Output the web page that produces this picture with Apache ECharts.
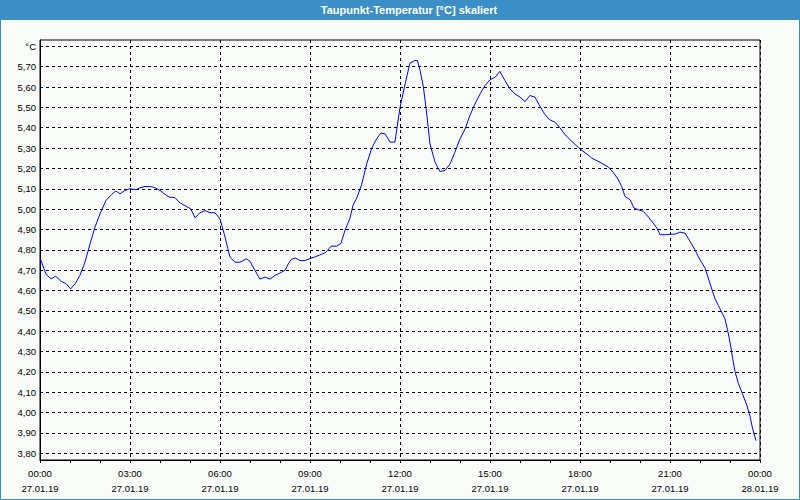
<!DOCTYPE html>
<html>
<head>
<meta charset="utf-8">
<script src="https://cdn.jsdelivr.net/npm/echarts@6/dist/echarts.min.js"></script>
<style>
html,body{margin:0;padding:0;background:#fafcfa;}
#chart{width:800px;height:500px;}
</style>
</head>
<body>
<div id="chart"></div>
<script>
// Time of day in hours (27.01.19 00:00 = 0)
var hours = [
  0.0, 0.2, 0.37, 0.52, 0.72, 0.87, 1.02, 1.17, 1.33, 1.5, 1.67, 1.83, 2.0, 2.2, 2.39, 2.53, 2.67, 2.83,
  3.0, 3.2, 3.33, 3.5, 3.69, 3.83, 4.0, 4.17, 4.31, 4.5, 4.67, 4.89, 5.03, 5.17, 5.33, 5.5, 5.67, 5.83,
  6.0, 6.17, 6.33, 6.5, 6.67, 6.87, 7.0, 7.17, 7.33, 7.5, 7.67, 7.83, 8.0, 8.17, 8.28, 8.37, 8.5, 8.67, 8.83,
  9.0, 9.17, 9.33, 9.5, 9.59, 9.7, 9.89, 10.03, 10.17, 10.33, 10.44, 10.56, 10.72, 10.89, 11.06, 11.22, 11.36, 11.5, 11.67, 11.83,
  12.0, 12.17, 12.33, 12.5, 12.58, 12.67, 12.78, 12.89, 13.0, 13.17, 13.33, 13.5, 13.67, 13.83, 14.0, 14.17, 14.33, 14.5, 14.67, 14.83,
  15.0, 15.17, 15.33, 15.5, 15.67, 15.83, 16.0, 16.17, 16.33, 16.5, 16.67, 16.83, 17.0, 17.17, 17.33, 17.5, 17.67,
  18.0, 18.22, 18.39, 18.67, 18.94, 19.11, 19.28, 19.39, 19.5, 19.67, 19.8, 19.94, 20.11, 20.28, 20.44, 20.56, 20.67, 20.83,
  21.0, 21.17, 21.33, 21.5, 21.67, 21.83, 22.0, 22.17, 22.33, 22.41, 22.5, 22.61, 22.72, 22.83, 22.91,
  23.0, 23.09, 23.17, 23.28, 23.41, 23.56, 23.67, 23.74, 23.8, 23.87
];
// Dew point temperature [°C]
var dewPoint = [
  4.76, 4.68, 4.657, 4.67, 4.644, 4.633, 4.608, 4.633, 4.674, 4.74, 4.83, 4.91, 4.977, 5.043, 5.072, 5.089, 5.075, 5.092,
  5.10, 5.095, 5.105, 5.111, 5.111, 5.105, 5.092, 5.072, 5.059, 5.056, 5.03, 5.013, 5.0, 4.957, 4.982, 4.993, 4.982, 4.982,
  4.952, 4.862, 4.764, 4.739, 4.739, 4.756, 4.743, 4.698, 4.656, 4.666, 4.656, 4.674, 4.686, 4.70, 4.732, 4.752, 4.76, 4.747, 4.747,
  4.757, 4.765, 4.775, 4.785, 4.798, 4.818, 4.818, 4.831, 4.897, 4.955, 5.021, 5.055, 5.12, 5.222, 5.30, 5.345, 5.374, 5.37, 5.329, 5.329,
  5.50, 5.615, 5.717, 5.73, 5.73, 5.68, 5.60, 5.468, 5.32, 5.23, 5.185, 5.19, 5.222, 5.28, 5.345, 5.394, 5.46, 5.517, 5.566, 5.607,
  5.635, 5.648, 5.677, 5.631, 5.59, 5.566, 5.55, 5.528, 5.558, 5.55, 5.504, 5.465, 5.438, 5.427, 5.40, 5.366, 5.341,
  5.295, 5.272, 5.251, 5.23, 5.207, 5.18, 5.144, 5.111, 5.062, 5.046, 5.005, 4.997, 4.989, 4.961, 4.931, 4.907, 4.874, 4.874,
  4.877, 4.877, 4.887, 4.882, 4.841, 4.80, 4.751, 4.71, 4.636, 4.60, 4.559, 4.527, 4.494, 4.461, 4.412,
  4.347, 4.265, 4.20, 4.143, 4.094, 4.036, 3.98, 3.931, 3.895, 3.862
];
var titleText = 'Taupunkt-Temperatur [°C] skaliert';
var unitLabel = '°C';
var dayLabels = ['27.01.19', '28.01.19'];

var lineData = hours.map(function (h, i) { return [h, dewPoint[i]]; });

var chart = echarts.init(document.getElementById('chart'), null, {renderer: 'svg'});
var labelFont = 'Liberation Sans, Arial, sans-serif';

chart.setOption({
  animation: false,
  backgroundColor: '#fafcfa',
  graphic: [
    {type: 'rect', shape: {x: 0, y: 0, width: 800, height: 20}, style: {fill: '#3c8fc6'}, silent: true, z: 0},
    {type: 'rect', shape: {x: 0.5, y: 0.5, width: 799, height: 499}, style: {fill: null, stroke: '#3c8fc6', lineWidth: 1}, silent: true, z: 0},
    {type: 'text', x: 409, y: 10, z: 10, style: {text: titleText, fill: '#ffffff', font: 'bold 11px Liberation Sans, Arial, sans-serif', textAlign: 'center', textVerticalAlign: 'middle'}}
  ],
  grid: [
    // plot frame with data
    {left: 40, right: 40, top: 40, bottom: 40, show: true, borderColor: '#000', borderWidth: 1, backgroundColor: 'transparent'},
    // grid for the labelled horizontal gridlines 3,80 .. 5,80
    {left: 40, right: 40, top: 46.3, bottom: 46.7, show: false}
  ],
  xAxis: [{
    gridIndex: 0, type: 'value', min: 0, max: 24, interval: 3,
    axisLine: {show: true, lineStyle: {color: '#000', width: 1}},
    axisTick: {show: true, length: 3, lineStyle: {color: '#000'}},
    minorTick: {show: true, splitNumber: 3, length: 3, lineStyle: {color: '#000'}},
    splitLine: {show: true, lineStyle: {color: '#000', type: [3, 3], width: 1}},
    axisLabel: {
      color: '#000', fontFamily: labelFont, fontSize: 9.5, lineHeight: 15, margin: 6,
      formatter: function (v) {
        var hh = Math.round(v) % 24;
        var s = (hh < 10 ? '0' : '') + hh + ':00';
        return s + '\n' + (v >= 24 ? dayLabels[1] : dayLabels[0]);
      }
    }
  }, {
    gridIndex: 1, type: 'value', min: 0, max: 24, show: false
  }],
  yAxis: [{
    gridIndex: 0, type: 'value', min: 3.7671, max: 5.831,
    axisLine: {show: true, lineStyle: {color: '#000', width: 1}},
    axisTick: {show: false}, axisLabel: {show: false}, splitLine: {show: false}
  }, {
    gridIndex: 1, type: 'value', min: 3.8, max: 5.8, interval: 0.1,
    axisLine: {show: false}, axisTick: {show: false},
    splitLine: {show: true, lineStyle: {color: '#000', type: [3, 3], width: 1}},
    axisLabel: {
      color: '#000', fontFamily: labelFont, fontSize: 9.5, margin: 4,
      formatter: function (v) {
        if (Math.abs(v - 5.8) < 0.001) return unitLabel;
        return v.toFixed(2).replace('.', ',');
      }
    }
  }],
  series: [{
    type: 'line', xAxisIndex: 0, yAxisIndex: 0, data: lineData, showSymbol: false, symbol: 'none',
    lineStyle: {color: '#0000ff', width: 1}, itemStyle: {color: '#0000ff'}
  }]
});
</script>
</body>
</html>
